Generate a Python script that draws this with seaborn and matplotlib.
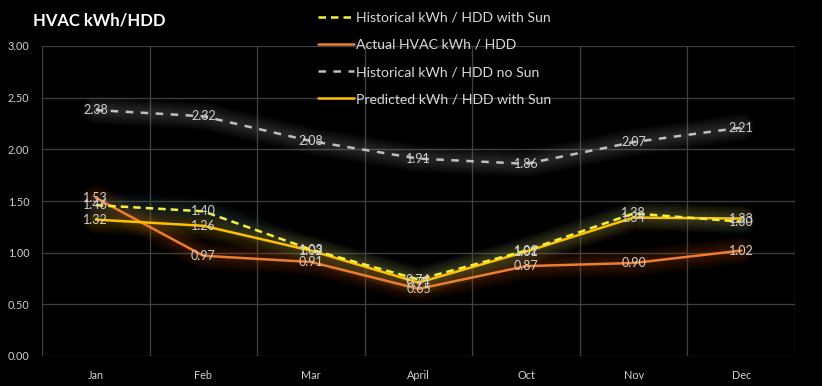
import matplotlib
matplotlib.use("Agg")
import matplotlib.pyplot as plt
import seaborn as sns

months = ["Jan", "Feb", "Mar", "April", "Oct", "Nov", "Dec"]
hist_sun = [1.46, 1.40, 1.03, 0.74, 1.02, 1.38, 1.30]
actual = [1.53, 0.97, 0.91, 0.65, 0.87, 0.90, 1.02]
hist_nosun = [2.38, 2.32, 2.08, 1.91, 1.86, 2.07, 2.21]
predicted = [1.32, 1.26, 1.02, 0.71, 1.01, 1.34, 1.33]

yticks = [0.0, 0.5, 1.0, 1.5, 2.0, 2.5, 3.0]

sns.set_style("dark")
plt.rcParams["font.family"] = ["Lato", "DejaVu Sans"]

fig = plt.figure(figsize=(8.22, 3.86), dpi=100, facecolor="black")
ax = fig.add_axes([42 / 822, 30 / 386, 753 / 822, 310 / 386])
ax.set_facecolor("black")

# (label, values, color, dashes, glow color) - drawn in this order
series = [
    ("Historical kWh / HDD no Sun", hist_nosun, "#bfbfbf", (3, 3), "#8c8c8c"),
    ("Actual HVAC kWh / HDD", actual, "#ed7d31", None, "#b4501a"),
    ("Predicted kWh / HDD with Sun", predicted, "#ffc000", None, "#b89018"),
    ("Historical kWh / HDD with Sun", hist_sun, "#f5f03c", (3, 2), "#4a6a70"),
]

# soft glow: many wide translucent strokes
for lab, vals, col, dash, glow in series:
    for lw in range(20, 3, -2):
        sns.lineplot(x=months, y=vals, ax=ax, color=glow, linewidth=lw,
                     alpha=0.035, sort=False, legend=False,
                     solid_capstyle="round", solid_joinstyle="round")

handles = {}
for lab, vals, col, dash, glow in series:
    sns.lineplot(x=months, y=vals, ax=ax, color=col, linewidth=1.8,
                 sort=False, legend=False)
    line = ax.lines[-1]
    if dash is not None:
        line.set_dashes(dash)
    handles[lab] = line

for lab, vals, col, dash, glow in series:
    for i, v in enumerate(vals):
        ax.text(i, v, f"{v:.2f}", ha="center", va="center", fontsize=9,
                color="#d0d0d0", zorder=10)

ax.set_xlim(-0.5, 6.5)
ax.set_ylim(0, 3)
ax.set_yticks(yticks)
ax.set_yticklabels([f"{t:.2f}" for t in yticks])
ax.set_xticks(range(len(months)))
ax.set_xticks([i - 0.5 for i in range(len(months) + 1)], minor=True)
ax.grid(False)
ax.grid(axis="y", color="#404040", linewidth=0.9)
ax.grid(axis="x", which="minor", color="#404040", linewidth=0.9)
ax.set_axisbelow(True)
for s in ax.spines.values():
    s.set_visible(False)
ax.tick_params(axis="both", which="both", length=0, colors="#d0d0d0",
               labelsize=7.8)
ax.tick_params(axis="x", pad=10)
ax.tick_params(axis="y", pad=9)
ax.set_xlabel("")
ax.set_ylabel("")

order = ["Historical kWh / HDD with Sun", "Actual HVAC kWh / HDD",
         "Historical kWh / HDD no Sun", "Predicted kWh / HDD with Sun"]
leg = fig.legend([handles[k] for k in order], order, loc="upper left",
                 bbox_to_anchor=(308 / 822, 1 - 2 / 386), frameon=False,
                 fontsize=10.1, labelcolor="#d9d9d9", handlelength=2.6,
                 handletextpad=0.15, labelspacing=1.08, borderpad=0.2)

fig.text(33 / 822, 1 - 20 / 386, "HVAC kWh/HDD", color="white",
         fontsize=12, fontweight="bold", va="center", ha="left")

fig.savefig("out.png", dpi=100, facecolor="black")
